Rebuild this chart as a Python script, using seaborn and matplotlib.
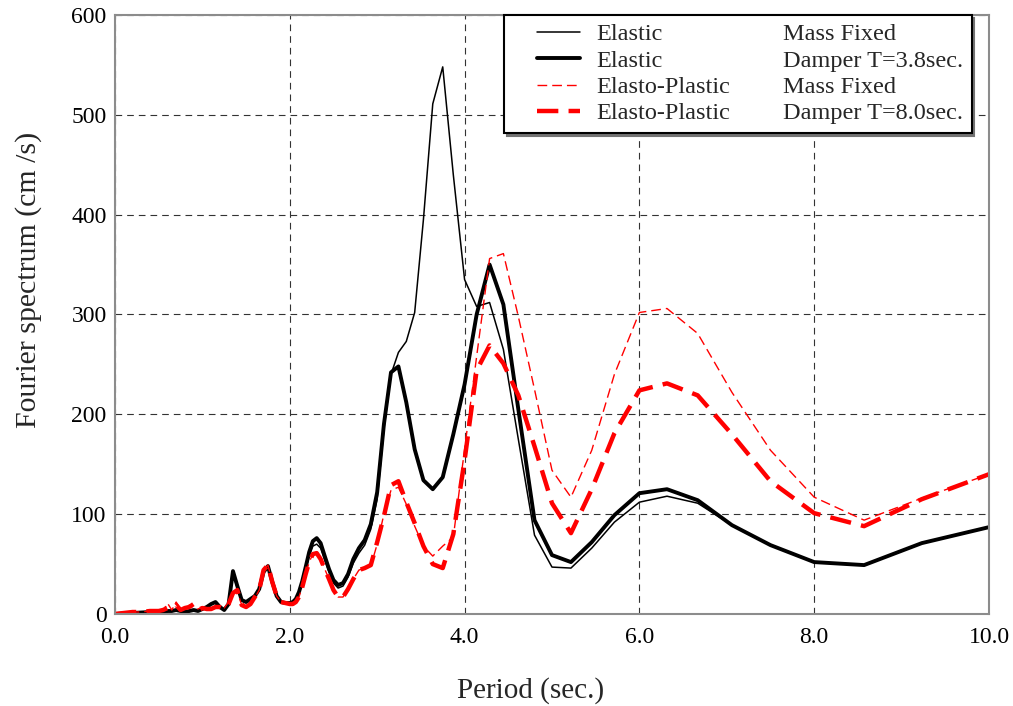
import matplotlib
matplotlib.use("Agg")
import matplotlib.pyplot as plt
from matplotlib.legend_handler import HandlerLine2D
from matplotlib.lines import Line2D
import pandas as pd
import seaborn as sns

# Period axis (sec.)
period = [
    0.0, 0.1, 0.2, 0.3, 0.4, 0.5, 0.55, 0.6, 0.65, 0.7, 0.75, 0.8, 0.85, 0.9, 0.95,
    1.0, 1.05, 1.1, 1.15, 1.2, 1.25, 1.3, 1.35, 1.4, 1.45, 1.5, 1.55, 1.6, 1.65,
    1.7, 1.75, 1.8, 1.85, 1.9, 1.95,
    2.0, 2.034, 2.069, 2.105, 2.143, 2.182, 2.222, 2.264, 2.308, 2.353, 2.4, 2.449,
    2.5, 2.553, 2.609, 2.667, 2.727, 2.791, 2.857, 2.927, 3.0, 3.077, 3.158, 3.243,
    3.333, 3.429, 3.529, 3.636, 3.75, 3.871, 4.0, 4.138, 4.286, 4.444, 4.615, 4.8,
    5.0, 5.217, 5.455, 5.714, 6.0, 6.316, 6.667, 7.059, 7.5, 8.0, 8.571, 9.231, 10.0,
]

# Fourier spectrum (cm/s) of the four cases
elastic_mass_fixed = [
    0, 0.5, 1, 1.5, 2, 2, 2, 3, 3, 4, 3, 2, 3, 4, 3,
    5, 7, 10, 11, 7, 4, 9, 40, 26, 13, 12, 15, 18, 25,
    42, 48, 32, 18, 12, 11,
    11, 12, 14, 21, 31, 44, 58, 68, 70, 66, 54, 42,
    31, 26, 28, 37, 51, 61, 69, 85, 115, 185, 240, 262,
    273, 302, 395, 511, 548, 440, 335, 308, 312, 265, 175, 79,
    47, 46, 66, 92, 112, 118, 111, 89, 69, 52, 49, 71, 87,
]
elastic_damper = [
    0, 0.5, 1, 1.5, 2, 2, 2, 3, 3, 4, 3, 2, 3, 4, 3,
    5, 7, 10, 12, 7, 4, 10, 43, 28, 14, 12, 15, 18, 25,
    42, 48, 32, 18, 12, 11,
    11, 12, 15, 22, 33, 47, 62, 73, 76, 71, 58, 45,
    34, 29, 31, 40, 55, 66, 74, 90, 122, 190, 242, 248,
    212, 165, 134, 125, 137, 180, 230, 300, 350, 310, 205, 94,
    59, 52, 72, 99, 121, 125, 114, 89, 69, 52, 49, 71, 87,
]
plastic_mass_fixed = [
    0, 1, 2, 2, 3, 3, 3, 11, 4, 12, 5, 4, 9, 6, 5,
    7, 4, 5, 6, 8, 6, 12, 22, 22, 9, 6, 10, 16, 24,
    44, 49, 32, 18, 12, 11,
    10, 10, 12, 17, 27, 40, 52, 60, 61, 55, 45, 35,
    24, 17, 17, 25, 35, 44, 46, 48, 70, 100, 124, 127,
    110, 88, 68, 58, 68, 77, 165, 258, 356, 361, 298, 225,
    144, 117, 164, 240, 302, 306, 281, 222, 164, 117, 94, 116, 140,
]
plastic_damper = [
    0, 1, 2, 2, 3, 3, 4, 6, 5, 9, 4, 6, 7, 10, 4,
    6, 5, 5, 7, 7, 5, 10, 21, 24, 9, 7, 10, 17, 24,
    44, 49, 32, 18, 12, 11,
    10, 10, 12, 17, 27, 40, 52, 60, 61, 55, 45, 35,
    24, 17, 17, 25, 35, 44, 46, 49, 72, 98, 129, 133,
    112, 91, 68, 50, 46, 80, 154, 244, 269, 251, 219, 168,
    111, 81, 125, 181, 224, 231, 219, 180, 133, 101, 88, 115, 140,
]

first_col = ["Elastic", "Elastic", "Elasto-Plastic", "Elasto-Plastic"]
second_col = ["Mass Fixed", "Damper T=3.8sec.", "Mass Fixed", "Damper T=8.0sec."]
x_ticks = [0, 2, 4, 6, 8, 10]
x_tick_labels = ["0.0", "2.0", "4.0", "6.0", "8.0", "10.0"]
y_ticks = [0, 100, 200, 300, 400, 500, 600]

sns.set_style("white")
plt.rcParams["font.family"] = ["Liberation Serif", "DejaVu Serif"]

df = pd.DataFrame({
    "period": period,
    "elastic_mass_fixed": elastic_mass_fixed,
    "elastic_damper": elastic_damper,
    "plastic_mass_fixed": plastic_mass_fixed,
    "plastic_damper": plastic_damper,
})

fig, ax = plt.subplots(figsize=(10.13, 7.06), dpi=100)
fig.subplots_adjust(left=0.1135, right=0.9763, top=0.9788, bottom=0.1303)

styles = [
    ("elastic_mass_fixed", dict(color="black", lw=1.1, linestyle="-")),
    ("elastic_damper", dict(color="black", lw=2.8, linestyle="-")),
    ("plastic_mass_fixed", dict(color="#ff0000", lw=1.0, linestyle=(0, (7.0, 3.6)))),
    ("plastic_damper", dict(color="#ff0000", lw=3.2, linestyle=(0, (4.8, 2.3)))),
]
handles = []
for col, st in styles:
    sns.lineplot(data=df, x="period", y=col, ax=ax, estimator=None, sort=False, **st)
    handles.append(Line2D([], [], **st))

ax.set_xlim(0, 10)
ax.set_ylim(0, 600)
ax.set_xticks(x_ticks)
ax.set_xticklabels(x_tick_labels)
ax.set_yticks(y_ticks)
ax.tick_params(axis="both", length=0, labelsize=17, colors="black")
ax.tick_params(axis="x", pad=9)
ax.tick_params(axis="y", pad=6)

ax.grid(True, linestyle=(0, (6, 4.5)), color="0.2", lw=0.8)
for sp in ax.spines.values():
    sp.set_color("0.55")
    sp.set_linewidth(1.5)

ax.set_xlabel("Period (sec.)", fontsize=21)
ax.xaxis.set_label_coords(0.475, -0.105)
ax.set_ylabel("Fourier spectrum (cm /s)", fontsize=21.5)
ax.yaxis.set_label_coords(-0.084, 0.558)


class InsetLine(HandlerLine2D):
    """Legend line drawn only on the right part of the handle box."""

    def __init__(self, inset, **kw):
        super().__init__(**kw)
        self.inset = inset

    def create_artists(self, legend, orig_handle, xdescent, ydescent,
                       width, height, fontsize, trans):
        return super().create_artists(legend, orig_handle, xdescent - self.inset,
                                      ydescent, width - self.inset, height,
                                      fontsize, trans)


blank = [Line2D([], [], color="none") for _ in second_col]
handler = InsetLine(18)
leg = ax.legend(
    handles + blank, first_col + second_col,
    ncol=2, loc="upper left", bbox_to_anchor=(0.445, 1.0), borderaxespad=0,
    fontsize=17.5, frameon=True, fancybox=False, edgecolor="black",
    handlelength=2.8, handletextpad=0.66, columnspacing=-1.3,
    labelspacing=0.175, borderpad=0.35,
    shadow={"color": "0.45", "alpha": 1.0},
    handler_map={h: handler for h in handles},
)
leg.get_frame().set_linewidth(1.5)

fig.savefig("out.png", dpi=100)
